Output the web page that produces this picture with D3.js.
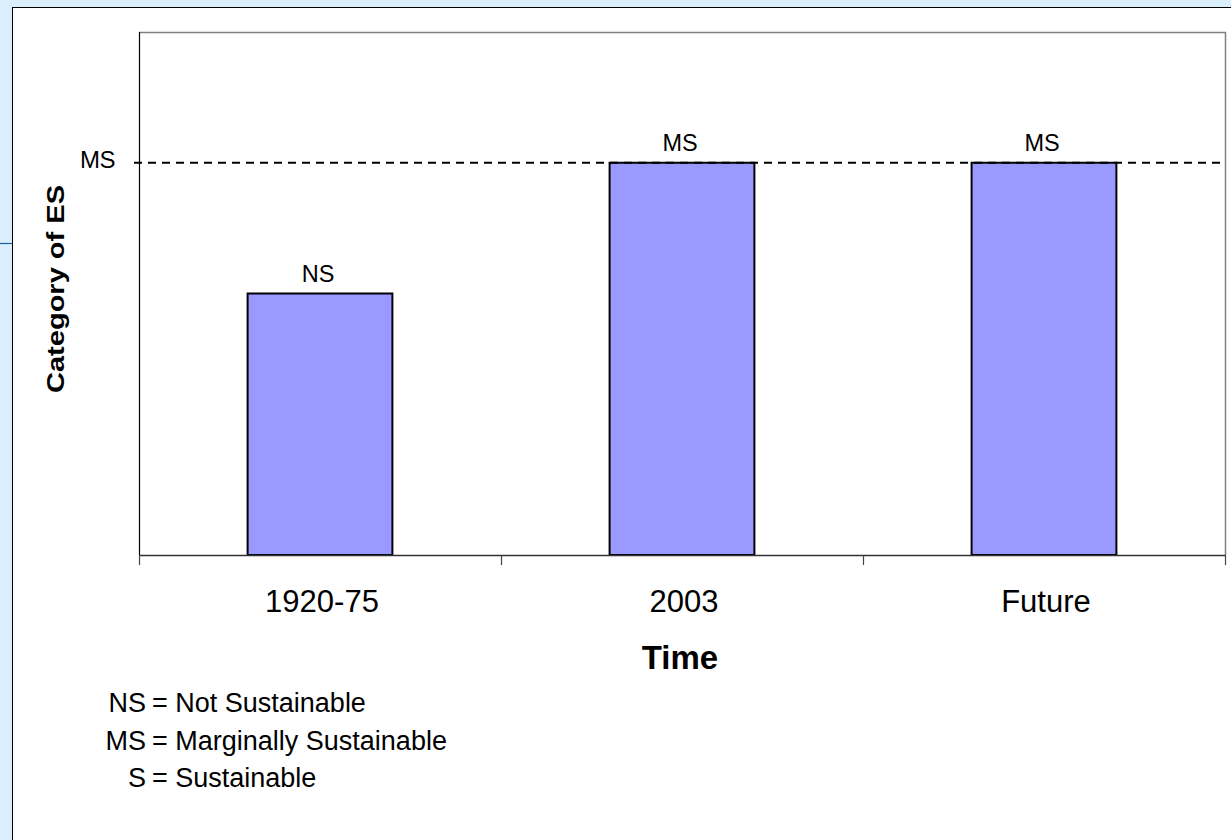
<!DOCTYPE html>
<html>
<head>
<meta charset="utf-8">
<script src="https://cdn.jsdelivr.net/npm/d3@7/dist/d3.min.js"></script>
<style>
  html, body { margin: 0; padding: 0; background: #daeefb; overflow: hidden; }
  svg { display: block; font-family: "Liberation Sans", Arial, sans-serif; }
</style>
</head>
<body>
<div class="chart"></div>
<script>
// data
var categories = ['1920-75', '2003', 'Future'];
var levels = [2, 3, 3];          // 0..4 scale, NS = 2, MS = 3, S = 4
var barLabels = ['NS', 'MS', 'MS'];
var refLevel = 3;
var refLabel = 'MS';
var legendAbbr = ['NS', 'MS', 'S'];
var legendText = ['= Not Sustainable', '= Marginally Sustainable', '= Sustainable'];

draw();

function draw() {
    var width = 1231;
    var height = 840;

    var plot = { left: 139, right: 1225, top: 32, bottom: 555 };

    var svg = d3.select('.chart')
        .append('svg')
        .attr('width', width)
        .attr('height', height);

    // outer frame (white card on light blue page)
    svg.append('rect')
        .attr('x', 12.5)
        .attr('y', 7.5)
        .attr('width', width)
        .attr('height', height)
        .attr('fill', 'white')
        .attr('stroke', '#000')
        .attr('stroke-width', 1);

    svg.append('line')
        .attr('x1', 0).attr('x2', 12)
        .attr('y1', 243.5).attr('y2', 243.5)
        .attr('stroke', '#1f5fa6')
        .attr('stroke-width', 1.2);

    var x = d3.scaleBand()
        .domain(categories)
        .range([plot.left, plot.right])
        .paddingInner(0.6)
        .paddingOuter(0.3);

    var y = d3.scaleLinear()
        .domain([0, 4])
        .range([plot.bottom, plot.top]);

    // plot area border (top/right grey)
    svg.append('path')
        .attr('d', 'M' + plot.left + ',' + (plot.top + 0.5) + 'H' + (plot.right + 0.5) + 'V' + plot.bottom)
        .attr('fill', 'none')
        .attr('stroke', '#808080')
        .attr('stroke-width', 1.5);

    // bars
    svg.selectAll('rect.bar')
        .data(categories)
        .enter()
        .append('rect')
        .attr('class', 'bar')
        .attr('x', function (d) { return x(d); })
        .attr('y', function (d, i) { return y(levels[i]); })
        .attr('width', x.bandwidth())
        .attr('height', function (d, i) { return y(0) - y(levels[i]); })
        .attr('fill', '#9999ff')
        .attr('stroke', '#000')
        .attr('stroke-width', 2);

    // bar labels
    svg.selectAll('text.bar-label')
        .data(categories)
        .enter()
        .append('text')
        .attr('class', 'bar-label')
        .attr('x', function (d) { return x(d) + x.bandwidth() / 2 - 2; })
        .attr('y', function (d, i) { return y(levels[i]) - 12; })
        .attr('text-anchor', 'middle')
        .attr('font-size', 23.5)
        .text(function (d, i) { return barLabels[i]; });

    // reference dashed line
    svg.append('line')
        .attr('x1', plot.left - 5)
        .attr('x2', plot.right)
        .attr('y1', y(refLevel))
        .attr('y2', y(refLevel))
        .attr('stroke', '#000')
        .attr('stroke-width', 2.2)
        .attr('stroke-dasharray', '8,6');

    svg.append('text')
        .attr('x', 115)
        .attr('y', y(refLevel) + 5)
        .attr('text-anchor', 'end')
        .attr('font-size', 24)
        .attr('letter-spacing', -0.5)
        .text(refLabel);

    // axes
    svg.append('line')
        .attr('x1', plot.left + 0.5).attr('x2', plot.left + 0.5)
        .attr('y1', plot.top).attr('y2', plot.bottom)
        .attr('stroke', '#000')
        .attr('stroke-width', 1.2);

    svg.append('line')
        .attr('x1', plot.left).attr('x2', plot.right + 1)
        .attr('y1', plot.bottom + 0.5).attr('y2', plot.bottom + 0.5)
        .attr('stroke', '#333')
        .attr('stroke-width', 1.5);

    var half = x.step() * x.paddingInner() / 2;
    var bounds = categories.map(function (d) { return x(d) - half; });
    bounds.push(plot.right);

    svg.selectAll('line.tick')
        .data(bounds)
        .enter()
        .append('line')
        .attr('class', 'tick')
        .attr('x1', function (d) { return Math.round(d) + 0.5; })
        .attr('x2', function (d) { return Math.round(d) + 0.5; })
        .attr('y1', plot.bottom)
        .attr('y2', plot.bottom + 10)
        .attr('stroke', '#444')
        .attr('stroke-width', 1.2);

    svg.selectAll('text.x-label')
        .data(categories)
        .enter()
        .append('text')
        .attr('class', 'x-label')
        .attr('x', function (d) { return x(d) + x.bandwidth() / 2 + 2; })
        .attr('y', 612)
        .attr('text-anchor', 'middle')
        .attr('font-size', 31)
        .text(function (d) { return d; });

    // axis titles
    svg.append('text')
        .attr('x', (plot.left + plot.right) / 2 - 2)
        .attr('y', 669)
        .attr('text-anchor', 'middle')
        .attr('font-size', 33)
        .attr('font-weight', 'bold')
        .text('Time');

    svg.append('text')
        .attr('transform', 'translate(64,289) rotate(-90)')
        .attr('text-anchor', 'middle')
        .attr('font-size', 24)
        .attr('font-weight', 'bold')
        .attr('textLength', 208)
        .attr('lengthAdjust', 'spacingAndGlyphs')
        .text('Category of ES');

    // legend notes
    var legendY = d3.scalePoint()
        .domain(legendAbbr)
        .range([712, 787]);

    svg.selectAll('text.legend-abbr')
        .data(legendAbbr)
        .enter()
        .append('text')
        .attr('class', 'legend-abbr')
        .attr('x', 146)
        .attr('y', function (d) { return legendY(d); })
        .attr('text-anchor', 'end')
        .attr('font-size', 27)
        .text(function (d) { return d; });

    svg.selectAll('text.legend-text')
        .data(legendAbbr)
        .enter()
        .append('text')
        .attr('class', 'legend-text')
        .attr('x', 152)
        .attr('y', function (d) { return legendY(d); })
        .attr('font-size', 27)
        .text(function (d, i) { return legendText[i]; });
}
</script>
</body>
</html>
